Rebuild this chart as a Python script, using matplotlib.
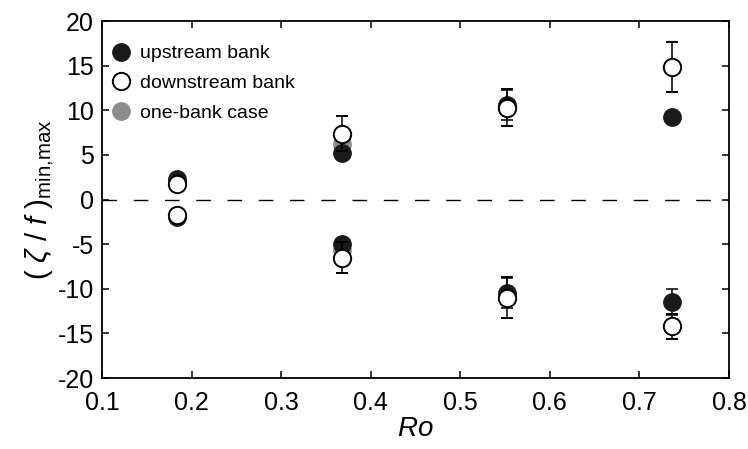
import matplotlib
matplotlib.use("Agg")
import matplotlib.pyplot as plt

# Rossby numbers of the four runs
ro = [0.184, 0.368, 0.552, 0.736]

# upstream bank (filled)
up_max = [2.3, 5.2, 10.6, 9.3]
up_max_err = [0.0, 0.0, 1.7, 0.0]
up_min = [-1.9, -5.0, -10.5, -11.5]
up_min_err = [0.0, 0.0, 1.7, 1.45]

# downstream bank (open)
dn_max = [1.8, 7.4, 10.3, 14.85]
dn_max_err = [0.0, 2.0, 2.1, 2.85]
dn_min = [-1.7, -6.5, -11.0, -14.2]
dn_min_err = [0.0, 1.7, 2.3, 1.4]

# one-bank case (grey)
one_ro = [0.368]
one_max = [6.2]
one_min = [-5.7]

plt.rcParams['font.family'] = ['Liberation Sans', 'DejaVu Sans']
plt.rcParams['axes.unicode_minus'] = False
plt.rcParams['mathtext.fontset'] = 'custom'
plt.rcParams['mathtext.rm'] = 'Liberation Sans'
plt.rcParams['mathtext.it'] = 'Liberation Sans:italic'

fig = plt.figure(figsize=(7.48, 4.49), dpi=100)
ax = fig.add_axes([0.1364, 0.158, 0.8382, 0.795])

ms = 12.5
grey = '#8c8c8c'
dark = '#1a1a1a'
eb = dict(ecolor='black', elinewidth=1.1, capsize=4.3, capthick=1.1, linestyle='none')

ax.axhline(0, color='black', lw=1.0, dashes=(10.5, 12), zorder=1)

# grey first, then filled, then open on top
for vals in (one_max, one_min):
    ax.plot(one_ro, vals, 'o', ms=ms, mfc=grey, mec=grey, zorder=2)
for vals, err in ((up_max, up_max_err), (up_min, up_min_err)):
    ax.errorbar(ro, vals, yerr=err, fmt='o', ms=ms, mfc=dark, mec=dark, zorder=3, **eb)
for vals, err in ((dn_max, dn_max_err), (dn_min, dn_min_err)):
    ax.errorbar(ro, vals, yerr=err, fmt='o', ms=ms, mfc='white', mec='black',
                mew=1.4, zorder=4, **eb)

# legend handles
h1, = ax.plot([], [], 'o', ms=ms, mfc=dark, mec=dark)
h2, = ax.plot([], [], 'o', ms=ms, mfc='white', mec='black', mew=1.4)
h3, = ax.plot([], [], 'o', ms=ms, mfc=grey, mec=grey)
ax.legend([h1, h2, h3], ['upstream bank', 'downstream bank', 'one-bank case'],
          loc='upper left', bbox_to_anchor=(-0.005, 0.972), frameon=False,
          fontsize=14, numpoints=1, handlelength=0.9, handletextpad=0.5,
          labelspacing=0.62, borderaxespad=0.3)

ax.set_xlim(0.1, 0.8)
ax.set_ylim(-20, 20)
ax.set_xticks([0.1, 0.2, 0.3, 0.4, 0.5, 0.6, 0.7, 0.8])
ax.set_yticks(range(-20, 21, 5))
ax.tick_params(direction='in', length=5, width=1.1, labelsize=18,
               top=True, right=True, pad=6)
ax.tick_params(axis='x', pad=9)
for s in ax.spines.values():
    s.set_linewidth(1.3)

ax.set_xlabel('$\\mathit{Ro}$', fontsize=20, labelpad=1)
ax.set_ylabel('$(\\ \\zeta\\ /\\ f\\ )_{\\mathrm{min{,}max}}$', fontsize=21, labelpad=1)

fig.savefig('out.png', dpi=100)
